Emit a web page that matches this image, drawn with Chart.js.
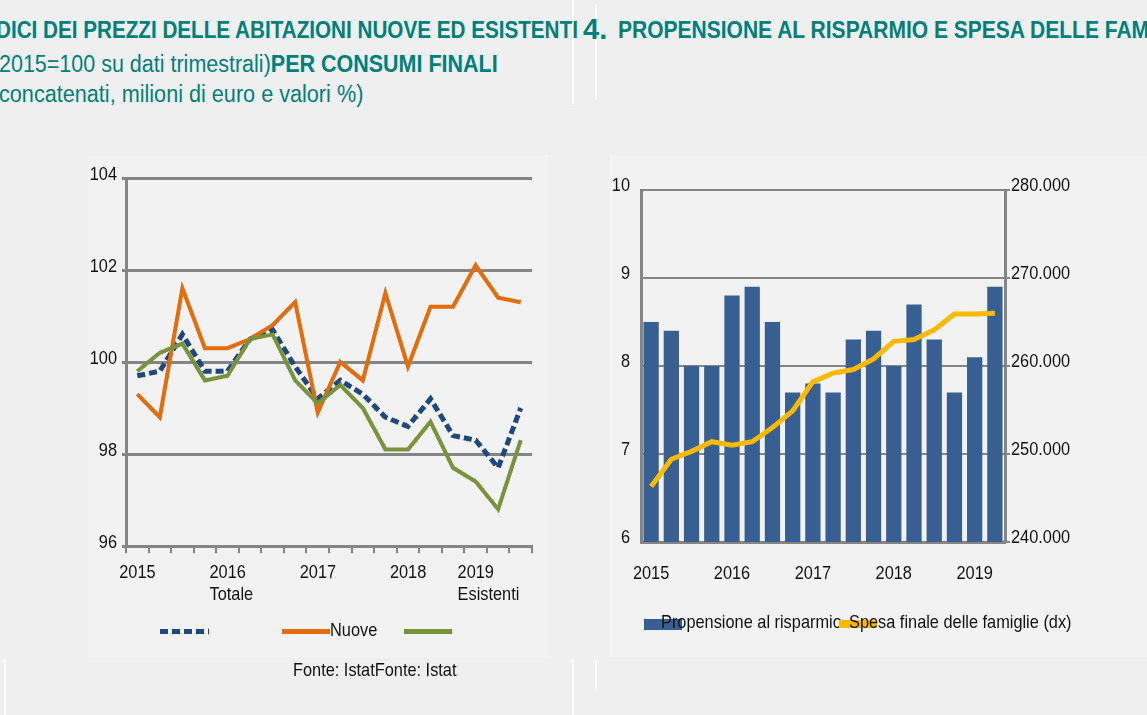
<!DOCTYPE html>
<html lang="it">
<head>
<meta charset="utf-8">
<script src="https://cdn.jsdelivr.net/npm/chart.js@4.4.1/dist/chart.umd.min.js"></script>
<style>
  html, body { margin: 0; padding: 0; }
  body {
    width: 1147px; height: 715px; overflow: hidden; position: relative;
    background: #efefef; color: #111;
    font-family: "Liberation Sans", Arial, sans-serif;
  }
  .abs { position: absolute; white-space: nowrap; line-height: 1; transform-origin: 0 0; }
  .title { color: #00807b; font-size: 23px; }
  .b { font-weight: bold; }
  .panel { position: absolute; background: #f2f2f2; }
  .vline { position: absolute; background: #fff; width: 2px; }
  .sw { position: absolute; }
  .leg { position: absolute; white-space: nowrap; font-size: 19px; line-height: 1;
         transform: scaleX(0.86); transform-origin: 0 0; }
</style>
</head>
<body>
  <div class="vline" style="left:572px;top:0;height:106px"></div>
  <div class="vline" style="left:595px;top:4px;height:96px"></div>
  <div class="vline" style="left:572px;top:659px;height:56px"></div>
  <div class="vline" style="left:595px;top:659px;height:31px"></div>
  <div class="vline" style="left:4px;top:659px;height:56px"></div>

  <div class="abs title b" data-w="582" id="t1" style="left:-4px;top:19px">DICI DEI PREZZI DELLE ABITAZIONI NUOVE ED ESISTENTI</div>
  <div class="abs title b" data-w="24" style="left:583px;top:15px;font-size:29px">4.</div>
  <div class="abs title b" data-like="t1" data-k="1.017" style="left:618px;top:19px">PROPENSIONE AL RISPARMIO E SPESA DELLE FAMIGLIE</div>
  <div class="abs title" data-w="499" style="left:-1px;top:53px">2015=100 su dati trimestrali)<span class="b">PER CONSUMI FINALI</span></div>
  <div class="abs title" data-w="364" style="left:-1px;top:83px">concatenati, milioni di euro e valori %)</div>

  <div class="panel" style="left:88px;top:155px;width:460px;height:503px"><canvas id="prezzi"></canvas></div>
  <div class="panel" style="left:609px;top:155px;width:538px;height:502px"><canvas id="risparmio"></canvas></div>

  <!-- legenda grafico prezzi -->
  <div class="sw" style="left:160px;top:629px;width:49px;height:5px;background:repeating-linear-gradient(to right,#1f497d 0 8px,transparent 8px 12px)"></div>
  <div class="sw" style="left:282px;top:629px;width:48px;height:5px;background:#e46c0a"></div>
  <div class="leg" style="left:330px;top:620px">Nuove</div>
  <div class="sw" style="left:404px;top:629px;width:48px;height:5px;background:#77933c"></div>
  <div class="leg" style="left:293px;top:660px">Fonte: IstatFonte: Istat</div>

  <!-- legenda grafico risparmio -->
  <div class="sw" style="left:644px;top:619px;width:38px;height:11px;background:#375f91"></div>
  <div class="leg" style="left:661px;top:612px">Propensione al risparmio</div>
  <div class="sw" style="left:839px;top:620px;width:38px;height:8px;background:#fbb900"></div>
  <div class="leg" style="left:849px;top:612px">Spesa finale delle famiglie (dx)</div>

<script>
// dati (trimestri 2015 - 2019)
const prezziLabels = ["2015", "", "", "", ["2016", "Totale"], "", "", "", "2017", "", "", "",
  "2018", "", "", ["2019", "Esistenti"], "", ""];
const totale =    [99.7, 99.8, 100.6, 99.8, 99.8, 100.5, 100.7, 99.9, 99.2, 99.6, 99.3, 98.8, 98.6, 99.2, 98.4, 98.3, 97.7, 99.0];
const nuove =     [99.3, 98.8, 101.6, 100.3, 100.3, 100.5, 100.8, 101.3, 98.9, 100.0, 99.6, 101.5, 99.9, 101.2, 101.2, 102.1, 101.4, 101.3];
const esistenti = [99.8, 100.2, 100.4, 99.6, 99.7, 100.5, 100.6, 99.6, 99.1, 99.5, 99.0, 98.1, 98.1, 98.7, 97.7, 97.4, 96.8, 98.3];

const risparmioLabels = ["2015", "", "", "", "2016", "", "", "", "2017", "", "", "",
  "2018", "", "", "", "2019", ""];
const propensione = [8.5, 8.4, 8.0, 8.0, 8.8, 8.9, 8.5, 7.7, 7.8, 7.7, 8.3, 8.4, 8.0, 8.7, 8.3, 7.7, 8.1, 8.9];
const spesa = [246300, 249400, 250300, 251400, 251000, 251400, 253000, 254900, 258200, 259200,
  259600, 260800, 262800, 263000, 264100, 265900, 265900, 266000];

// i titoli sono in un carattere stretto: li stringo fino alla larghezza voluta
const scale = {};
document.querySelectorAll("[data-w]").forEach((el) => {
  const k = +el.dataset.w / el.offsetWidth;
  if (el.id) scale[el.id] = k;
  el.style.transform = "scaleX(" + k + ")";
});
document.querySelectorAll("[data-like]").forEach((el) => {
  el.style.transform = "scaleX(" + scale[el.dataset.like] * (+el.dataset.k || 1) + ")";
});

const GRIGIO = "#858585";
const STRETTO = 0.86;
Chart.defaults.font.family = '"Liberation Sans", Arial, sans-serif';
Chart.defaults.font.size = 19;
Chart.defaults.color = "#111";
Chart.defaults.animation = false;

// etichette degli assi in versione "narrow"
const condensa = {
  id: "condensa",
  beforeDraw(chart) {
    Object.values(chart.scales).forEach((s) => {
      if (s._condensato || !Chart.helpers.renderText) return;
      s._condensato = true;
      s.drawLabels = function (chartArea) {
        if (!this.options.ticks.display) return;
        const ctx = this.ctx;
        this.getLabelItems(chartArea).forEach((item) => {
          const t = item.options.translation;
          ctx.save();
          ctx.translate(t[0], t[1]);
          ctx.scale(STRETTO, 1);
          Chart.helpers.renderText(ctx, item.label, 0, item.textOffset, item.font,
            Object.assign({}, item.options, { translation: [0, 0] }));
          ctx.restore();
        });
      };
    });
  },
};

const linea = (label, data, color, extra) => Object.assign({
  label: label,
  data: data,
  borderColor: color,
  borderWidth: 4,
  pointRadius: 0,
  tension: 0,
  fill: false,
}, extra);

new Chart(document.getElementById("prezzi"), {
  type: "line",
  data: {
    labels: prezziLabels,
    datasets: [
      linea("Totale", totale, "#1f497d", { borderWidth: 5, borderDash: [8, 4], order: 2 }),
      linea("Nuove", nuove, "#e46c0a", { order: 1 }),
      linea("Esistenti", esistenti, "#77933c", { order: 0 }),
    ],
  },
  plugins: [condensa],
  options: {
    responsive: true,
    maintainAspectRatio: false,
    layout: { padding: { top: 23, right: 16, left: 0, bottom: 0 } },
    plugins: { legend: { display: false }, tooltip: { enabled: false } },
    scales: {
      x: {
        offset: true,
        grid: { offset: true, drawOnChartArea: false, tickLength: 7, color: GRIGIO, lineWidth: 2 },
        border: { color: GRIGIO, width: 3 },
        ticks: { autoSkip: false, maxRotation: 0, align: "start", labelOffset: -18, padding: 8 },
        afterFit: (s) => { s.height = 112; },
      },
      y: {
        min: 96,
        max: 104,
        ticks: { stepSize: 2, padding: 5, labelOffset: -3 },
        grid: { color: GRIGIO, lineWidth: 3, tickLength: 4 },
        border: { color: GRIGIO, width: 3 },
        afterFit: (s) => { s.width = 38; },
      },
    },
  },
});

const migliaia = (v) => String(v).replace(/\B(?=(\d{3})+(?!\d))/g, ".");

new Chart(document.getElementById("risparmio"), {
  type: "bar",
  data: {
    labels: risparmioLabels,
    datasets: [
      {
        type: "line",
        label: "Spesa finale delle famiglie (dx)",
        data: spesa,
        yAxisID: "y1",
        borderColor: "#fbb900",
        borderWidth: 5,
        pointRadius: 0,
        tension: 0,
        order: 0,
      },
      {
        label: "Propensione al risparmio",
        data: propensione,
        yAxisID: "y",
        backgroundColor: "#375f91",
        barPercentage: 0.755,
        categoryPercentage: 1,
        order: 1,
      },
    ],
  },
  plugins: [condensa],
  options: {
    responsive: true,
    maintainAspectRatio: false,
    layout: { padding: { top: 35, right: 0, left: 0, bottom: 0 } },
    plugins: { legend: { display: false }, tooltip: { enabled: false } },
    scales: {
      x: {
        grid: { display: false },
        border: { color: GRIGIO, width: 3 },
        ticks: { autoSkip: false, maxRotation: 0, padding: 12 },
        afterFit: (s) => { s.height = 115; },
      },
      y: {
        position: "left",
        min: 6,
        max: 10,
        ticks: { stepSize: 1, padding: 11, labelOffset: -4 },
        grid: { color: GRIGIO, lineWidth: 2, drawTicks: false },
        border: { color: GRIGIO, width: 3 },
        afterFit: (s) => { s.width = 32; },
      },
      y1: {
        position: "right",
        min: 240000,
        max: 280000,
        ticks: { stepSize: 10000, padding: 1, labelOffset: -4, callback: (v) => migliaia(v) },
        grid: { drawOnChartArea: false, color: GRIGIO, lineWidth: 2, tickLength: 5 },
        border: { color: GRIGIO, width: 3 },
        afterFit: (s) => { s.width = 142; },
      },
    },
  },
});
</script>
</body>
</html>
